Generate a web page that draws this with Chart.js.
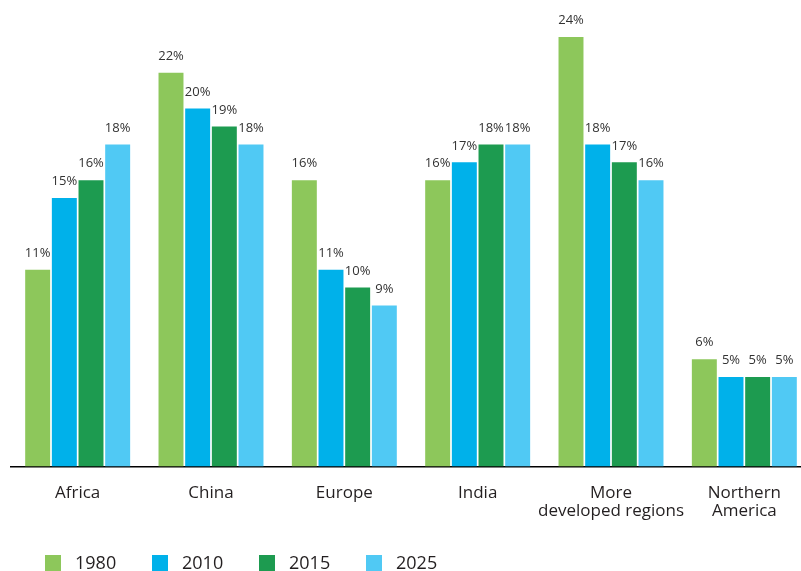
<!DOCTYPE html>
<html>
<head>
<meta charset="utf-8">
<script src="https://cdn.jsdelivr.net/npm/chart.js@4/dist/chart.umd.min.js"></script>
<style>
  html, body { margin: 0; padding: 0; background: #fff; overflow: hidden; }
  /* the plot runs a little past the right edge in the original, so the canvas is wider than the window */
  #wrap { width: 811px; height: 571px; position: relative; }
</style>
</head>
<body>
<div id="wrap"><canvas id="bar_chart"></canvas></div>
<script>
// regions on the x axis
var regions = [["Africa"], ["China"], ["Europe"], ["India"], ["More", "developed regions"], ["Northern", "America"]];

// share (%) per year
var years = ["1980", "2010", "2015", "2025"];
var values_1980 = [11, 22, 16, 16, 24, 6];
var values_2010 = [15, 20, 11, 17, 18, 5];
var values_2015 = [16, 19, 10, 18, 17, 5];
var values_2025 = [18, 18, 9, 18, 16, 5];

var colors = ["#8dc75b", "#00b1ea", "#1d9b50", "#50c9f4"];
var font_family = "'Open Sans', 'Noto Sans', sans-serif";

// draws the % over each bar
var valueLabels = {
  id: 'valueLabels',
  afterDatasetsDraw: function(chart) {
    var ctx = chart.ctx;
    ctx.save();
    ctx.font = "13px " + font_family;
    ctx.fillStyle = "#333";
    ctx.textAlign = "center";
    ctx.textBaseline = "bottom";
    chart.data.datasets.forEach(function(ds, i) {
      chart.getDatasetMeta(i).data.forEach(function(bar, j) {
        ctx.fillText(ds.data[j] + "%", bar.x, bar.y - 10);
      });
    });
    ctx.restore();
  }
};

// legend along the bottom, left aligned
var bottomLegend = {
  id: 'bottomLegend',
  afterDraw: function(chart) {
    var ctx = chart.ctx;
    ctx.save();
    ctx.font = "18px " + font_family;
    ctx.textBaseline = "middle";
    chart.data.datasets.forEach(function(ds, i) {
      var x = 45 + i * 107;
      var y = 563;
      ctx.fillStyle = ds.backgroundColor;
      ctx.fillRect(x, y - 8, 16, 16);
      ctx.fillStyle = "#231f20";
      ctx.fillText(ds.label, x + 30, y + 1);
    });
    ctx.restore();
  }
};

var series = [values_1980, values_2010, values_2015, values_2025];
var datasets = [];
for (var s = 0; s < years.length; s++) {
  datasets.push({
    label: years[s],
    data: series[s],
    backgroundColor: colors[s],
    categoryPercentage: 0.8,
    barPercentage: 0.936
  });
}

var ctx = document.getElementById("bar_chart");
var bar_chart = new Chart(ctx, {
  type: 'bar',
  data: {
    labels: regions,
    datasets: datasets
  },
  options: {
    responsive: true,
    maintainAspectRatio: false,
    animation: false,
    layout: { padding: { top: 37, left: 11, right: 0, bottom: 33 } },
    plugins: {
      legend: { display: false },
      tooltip: { enabled: false }
    },
    scales: {
      x: {
        grid: { display: false, drawTicks: false },
        border: { display: true, color: "#000", width: 1.5 },
        ticks: {
          padding: 17,
          color: "#231f20",
          font: { size: 17, family: font_family, lineHeight: 1.1 },
          maxRotation: 0,
          autoSkip: false
        }
      },
      y: {
        display: false,
        min: 0,
        max: 24
      }
    }
  },
  plugins: [valueLabels, bottomLegend]
});
</script>
</body>
</html>
